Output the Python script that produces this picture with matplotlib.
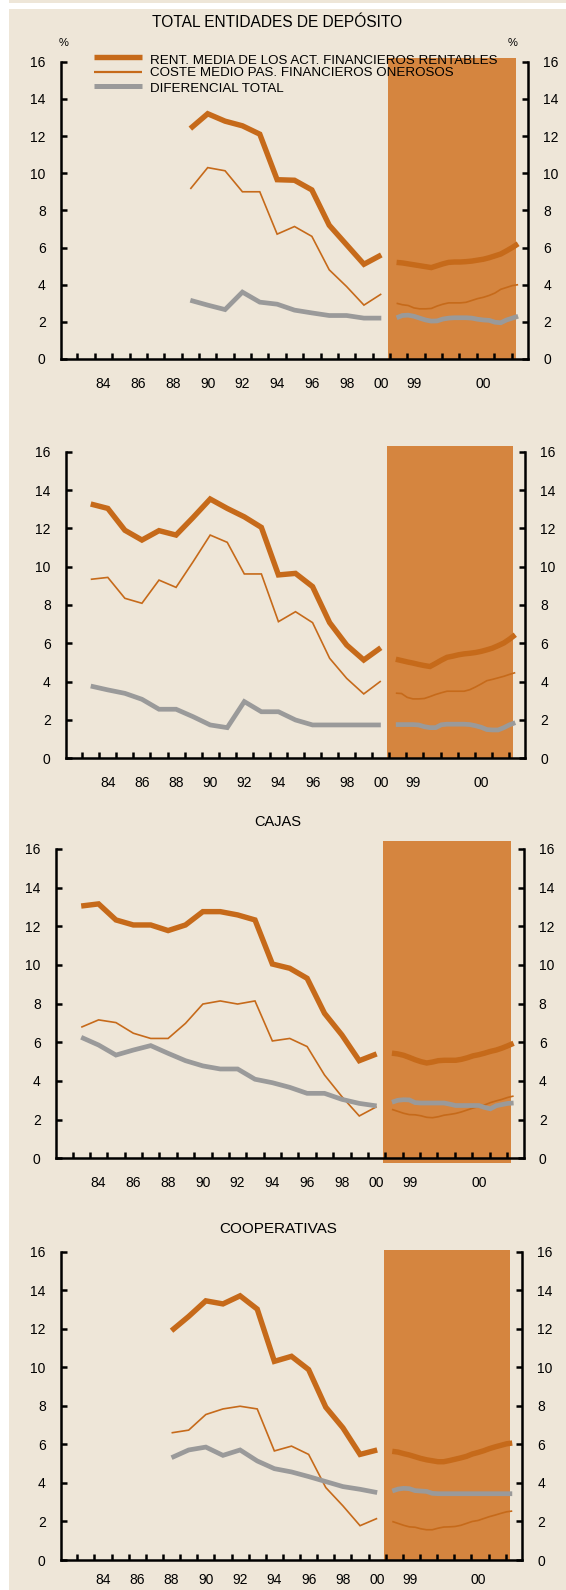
import numpy as np
import matplotlib
matplotlib.use('Agg')
import matplotlib.pyplot as plt
from matplotlib.lines import Line2D
from matplotlib.patches import Rectangle

plt.rcParams['font.family'] = ['Liberation Sans', 'DejaVu Sans']

# colours
CREAM = '#EEE6D8'
ORANGE = '#C66A1A'
SHADE = '#D5853F'
GREY = '#9A9A9A'

# annual data 1983-2000, monthly data 1999-2000 (22 readings)
years = list(range(1983, 2001))
year_labels = ['84', '86', '88', '90', '92', '94', '96', '98', '00']
month_labels = ['99', '00']
nan = np.nan

# TOTAL ENTIDADES DE DEPOSITO
tot_rent = [nan] * 6 + [12.4, 13.2, 12.8, 12.55, 12.1, 9.65, 9.62, 9.1, 7.2, 6.15, 5.1, 5.6]
tot_coste = [nan] * 6 + [9.15, 10.3, 10.13, 9.0, 9.0, 6.72, 7.13, 6.6, 4.8, 3.9, 2.9, 3.5]
tot_dif = [nan] * 6 + [3.16, 2.9, 2.66, 3.6, 3.06, 2.95, 2.63, 2.48, 2.34, 2.34, 2.2, 2.2]
tot_rent_m = [5.2, 5.17, 5.12, 5.07, 5.02, 4.97, 4.92, 5.02, 5.12, 5.2, 5.22, 5.22,
              5.24, 5.27, 5.32, 5.37, 5.45, 5.55, 5.65, 5.82, 6.0, 6.2]
tot_coste_m = [3.0, 2.92, 2.88, 2.75, 2.7, 2.7, 2.72, 2.85, 2.95, 3.02, 3.02, 3.02,
               3.05, 3.15, 3.25, 3.32, 3.42, 3.55, 3.75, 3.85, 3.95, 4.0]
tot_dif_m = [2.22, 2.34, 2.36, 2.3, 2.2, 2.1, 2.04, 2.05, 2.15, 2.2, 2.22, 2.22,
             2.22, 2.2, 2.14, 2.1, 2.08, 1.98, 1.95, 2.1, 2.2, 2.3]

# second panel (bancos)
ban_rent = [13.27, 13.04, 11.9, 11.39, 11.88, 11.65, 12.57, 13.53, 13.04, 12.6, 12.05,
            9.57, 9.65, 8.96, 7.08, 5.91, 5.13, 5.77]
ban_coste = [9.34, 9.44, 8.35, 8.09, 9.3, 8.92, 10.26, 11.65, 11.27, 9.62, 9.62,
             7.13, 7.65, 7.08, 5.22, 4.17, 3.36, 4.03]
ban_dif = [3.77, 3.57, 3.39, 3.08, 2.56, 2.56, 2.17, 1.74, 1.6, 2.96, 2.43,
           2.43, 2.0, 1.74, 1.74, 1.74, 1.74, 1.74]
ban_rent_m = [5.17, 5.1, 5.03, 4.97, 4.9, 4.84, 4.79, 4.95, 5.12, 5.27, 5.33, 5.4,
              5.45, 5.48, 5.52, 5.58, 5.66, 5.75, 5.88, 6.02, 6.22, 6.45]
ban_coste_m = [3.4, 3.38, 3.18, 3.1, 3.1, 3.12, 3.22, 3.33, 3.42, 3.5, 3.5, 3.5,
               3.5, 3.58, 3.72, 3.88, 4.05, 4.12, 4.2, 4.28, 4.38, 4.47]
ban_dif_m = [1.76, 1.76, 1.76, 1.76, 1.74, 1.65, 1.6, 1.6, 1.75, 1.78, 1.78, 1.78,
             1.78, 1.76, 1.7, 1.62, 1.5, 1.48, 1.48, 1.6, 1.75, 1.86]

# CAJAS
caj_rent = [13.05, 13.16, 12.33, 12.07, 12.07, 11.78, 12.07, 12.76, 12.76, 12.59, 12.33,
            10.05, 9.83, 9.31, 7.5, 6.38, 5.05, 5.4]
caj_coste = [6.78, 7.16, 7.02, 6.47, 6.2, 6.2, 6.98, 7.98, 8.14, 7.98, 8.14,
             6.07, 6.2, 5.78, 4.31, 3.19, 2.19, 2.67]
caj_dif = [6.26, 5.86, 5.34, 5.6, 5.83, 5.43, 5.05, 4.78, 4.62, 4.62, 4.09,
           3.91, 3.67, 3.36, 3.36, 3.05, 2.84, 2.71]
caj_rent_m = [5.44, 5.4, 5.33, 5.22, 5.1, 5.0, 4.93, 4.98, 5.05, 5.07, 5.07, 5.07,
              5.12, 5.2, 5.3, 5.36, 5.44, 5.53, 5.6, 5.7, 5.82, 5.95]
caj_coste_m = [2.53, 2.43, 2.33, 2.26, 2.25, 2.2, 2.12, 2.1, 2.15, 2.23, 2.27, 2.32,
               2.4, 2.5, 2.6, 2.68, 2.76, 2.88, 2.97, 3.05, 3.15, 3.22]
caj_dif_m = [2.9, 3.0, 3.03, 3.02, 2.88, 2.86, 2.86, 2.86, 2.86, 2.86, 2.8, 2.73,
             2.73, 2.73, 2.73, 2.73, 2.63, 2.56, 2.72, 2.78, 2.84, 2.86]

# COOPERATIVAS
coo_rent = [nan] * 5 + [11.9, 12.64, 13.45, 13.29, 13.71, 13.02, 10.31, 10.57, 9.88,
                        7.93, 6.86, 5.48, 5.71]
coo_coste = [nan] * 5 + [6.6, 6.74, 7.55, 7.84, 7.98, 7.84, 5.66, 5.91, 5.48,
                         3.76, 2.81, 1.78, 2.16]
coo_dif = [nan] * 5 + [5.31, 5.71, 5.86, 5.43, 5.71, 5.14, 4.74, 4.57, 4.33,
                       4.07, 3.81, 3.67, 3.5]
coo_rent_m = [5.64, 5.6, 5.52, 5.45, 5.36, 5.27, 5.2, 5.15, 5.1, 5.1, 5.16, 5.23,
              5.3, 5.38, 5.5, 5.58, 5.67, 5.78, 5.87, 5.95, 6.03, 6.07]
coo_coste_m = [2.0, 1.9, 1.8, 1.72, 1.7, 1.62, 1.57, 1.57, 1.65, 1.71, 1.72, 1.74,
               1.8, 1.9, 2.0, 2.05, 2.15, 2.25, 2.33, 2.42, 2.5, 2.54]
coo_dif_m = [3.58, 3.68, 3.72, 3.7, 3.6, 3.58, 3.56, 3.46, 3.44, 3.44, 3.44, 3.44,
             3.44, 3.44, 3.44, 3.44, 3.44, 3.44, 3.44, 3.44, 3.44, 3.44]

W, H = 566, 1590
fig = plt.figure(figsize=(W / 100, H / 100), dpi=100)
fig.patch.set_facecolor('white')
# cream background with a white margin at top/left
fig.add_artist(Rectangle((9 / W, 0), 1 - 9 / W, 1 - 9 / H, transform=fig.transFigure,
                         facecolor=CREAM, edgecolor='none', zorder=-10))
fig.add_artist(Rectangle((9 / W, 1 - 3 / H), 1 - 9 / W, 3 / H, transform=fig.transFigure,
                         facecolor=CREAM, edgecolor='none', zorder=-10))

# x positions: category per year, then monthly points in the shaded block
x_year = np.array(years) - 1982
x_month = 18.88 + np.arange(22) / 3.0
label_pos = [2, 4, 6, 8, 10, 12, 14, 16, 18, 19.9, 23.9]


def make_panel(left, right, y16, y0, shade_top, shade_bot, data, xpad=13):
    ax = fig.add_axes([left / W, 1 - y0 / H, (right - left) / W, (y0 - y16) / H])
    ax.set_facecolor('none')
    ax.set_xlim(-0.45, 26.45)
    ax.set_ylim(0, 16)
    ax.axvspan(18.38, 25.75, ymin=shade_bot / 16, ymax=shade_top / 16,
               color=SHADE, lw=0, zorder=1, clip_on=False)
    rent, coste, dif, rent_m, coste_m, dif_m = data
    kw = dict(solid_joinstyle='miter', solid_capstyle='butt', zorder=3)
    ax.plot(x_year, rent, color=ORANGE, lw=3.9, **kw)
    ax.plot(x_year, coste, color=ORANGE, lw=1.2, **kw)
    ax.plot(x_year, dif, color=GREY, lw=3.4, **kw)
    ax.plot(x_month, rent_m, color=ORANGE, lw=3.9, **kw)
    ax.plot(x_month, coste_m, color=ORANGE, lw=1.2, **kw)
    ax.plot(x_month, dif_m, color=GREY, lw=3.4, **kw)

    for s in ['left', 'right', 'bottom']:
        ax.spines[s].set_linewidth(1.8)
        ax.spines[s].set_zorder(4)
    ax.spines['top'].set_visible(False)

    ax.set_yticks(range(0, 17, 2))
    ax.tick_params(axis='y', direction='in', left=True, right=True, labelleft=True,
                   labelright=True, length=4, width=1.8, pad=11, labelsize=10)
    ax.set_xticks(label_pos, year_labels + month_labels)
    ax.set_xticks(np.arange(0.5, 26, 1), minor=True)
    ax.tick_params(axis='x', which='major', length=0, pad=xpad, labelsize=10)
    ax.tick_params(axis='x', which='minor', direction='in', length=4, width=1.8)
    return ax


make_panel(61, 528, 61.7, 359, 16.18, 0, (tot_rent, tot_coste, tot_dif, tot_rent_m, tot_coste_m, tot_dif_m))
make_panel(66, 525, 451.7, 758.3, 16.3, 0, (ban_rent, ban_coste, ban_dif, ban_rent_m, ban_coste_m, ban_dif_m))
make_panel(56, 523.5, 849, 1158.3, 16.4, -0.23, (caj_rent, caj_coste, caj_dif, caj_rent_m, caj_coste_m, caj_dif_m))
make_panel(61, 522, 1251.7, 1560, 16.08, 0, (coo_rent, coo_coste, coo_dif, coo_rent_m, coo_coste_m, coo_dif_m),
           xpad=9)


def ftext(x, y, s, **kw):
    fig.text(x / W, 1 - y / H, s, **kw)


ftext(277, 22.7, 'TOTAL ENTIDADES DE DEPÓSITO', ha='center', va='center', fontsize=11.2)
ftext(278, 821.7, 'CAJAS', ha='center', va='center', fontsize=10.5)
ftext(278, 1229, 'COOPERATIVAS', ha='center', va='center', fontsize=11)
ftext(64, 42.7, '%', ha='center', va='center', fontsize=8)
ftext(513, 42.7, '%', ha='center', va='center', fontsize=8)

# legend drawn by hand
legend_items = [('RENT. MEDIA DE LOS ACT. FINANCIEROS RENTABLES', ORANGE, 3.9, 57, 61),
                ('COSTE MEDIO PAS. FINANCIEROS ONEROSOS', ORANGE, 1.6, 72, 73),
                ('DIFERENCIAL TOTAL', GREY, 3.6, 85.5, 89)]
for label, col, lw, yl, yt in legend_items:
    fig.add_artist(Line2D([94 / W, 141.5 / W], [1 - yl / H, 1 - yl / H], color=col, lw=lw,
                          solid_capstyle='butt', transform=fig.transFigure, zorder=5))
    ftext(150, yt, label, ha='left', va='center', fontsize=9.6, zorder=6)

fig.savefig('out.png', dpi=100, facecolor=fig.get_facecolor())
